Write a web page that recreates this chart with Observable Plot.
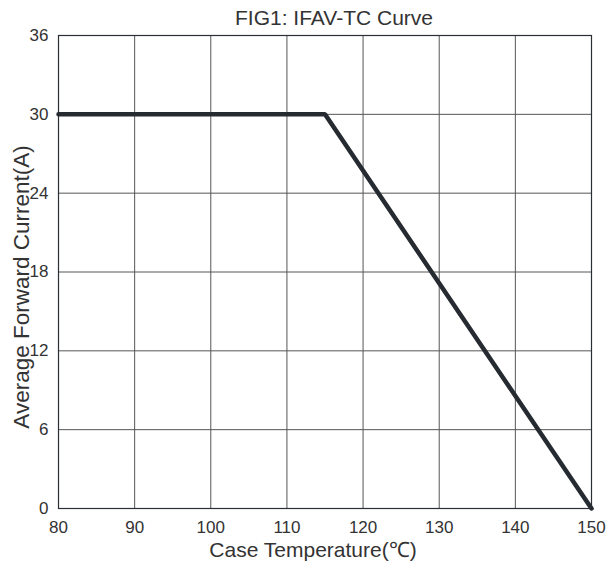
<!DOCTYPE html>
<html>
<head>
<meta charset="utf-8">
<script src="https://cdn.jsdelivr.net/npm/d3@7"></script>
<script src="https://cdn.jsdelivr.net/npm/@observablehq/plot@0.6"></script>
<style>
  html, body { margin: 0; padding: 0; background: #fff; }
  #chart svg { display: block; }
</style>
</head>
<body>
<div id="chart"></div>
<script>
const title = "FIG1: IFAV-TC Curve";
const xLabel = "Case Temperature(℃)";
const yLabel = "Average Forward Current(A)";
const xTicks = [80, 90, 100, 110, 120, 130, 140, 150];
const yTicks = [0, 6, 12, 18, 24, 30, 36];
const caseTemp = [80, 115, 150];
const forwardCurrent = [30, 30, 0];

const curve = caseTemp.map((t, i) => ({t, a: forwardCurrent[i]}));
const font = "'Liberation Sans', Arial, Helvetica, sans-serif";

const chart = Plot.plot({
  width: 609,
  height: 568,
  marginLeft: 58,
  marginRight: 18,
  marginTop: 35,
  marginBottom: 60,
  style: {fontFamily: font, background: "#fff", color: "#333"},
  x: {domain: [80, 150], ticks: xTicks},
  y: {domain: [0, 36], ticks: yTicks},
  marks: [
    Plot.ruleX(xTicks.slice(1, -1), {stroke: "#555", strokeWidth: 1}),
    Plot.ruleY(yTicks.slice(1, -1), {stroke: "#555", strokeWidth: 1}),
    Plot.frame({stroke: "#2a2e35", strokeWidth: 1.2}),
    Plot.axisX({ticks: xTicks, tickSize: 0, tickPadding: 12, fontSize: 17, label: null, fill: "#333"}),
    Plot.axisY({ticks: yTicks, tickSize: 0, tickPadding: 10, fontSize: 17, label: null, fill: "#333"}),
    Plot.line(curve, {x: "t", y: "a", stroke: "#262b31", strokeWidth: 4.5, strokeLinejoin: "miter", strokeLinecap: "round"}),
    Plot.text([title], {frameAnchor: "top", lineAnchor: "middle", textAnchor: "middle", dx: 9, dy: -17, fontSize: 21, fill: "#333", text: d => d}),
    Plot.text([xLabel], {frameAnchor: "bottom", lineAnchor: "middle", textAnchor: "middle", dx: -12, dy: 42, fontSize: 21, fill: "#333", text: d => d}),
    Plot.text([yLabel], {frameAnchor: "left", lineAnchor: "middle", textAnchor: "middle", dx: -37, dy: 15, rotate: -90, fontSize: 22.5, fill: "#333", text: d => d})
  ]
});
document.getElementById("chart").appendChild(chart);
</script>
</body>
</html>
